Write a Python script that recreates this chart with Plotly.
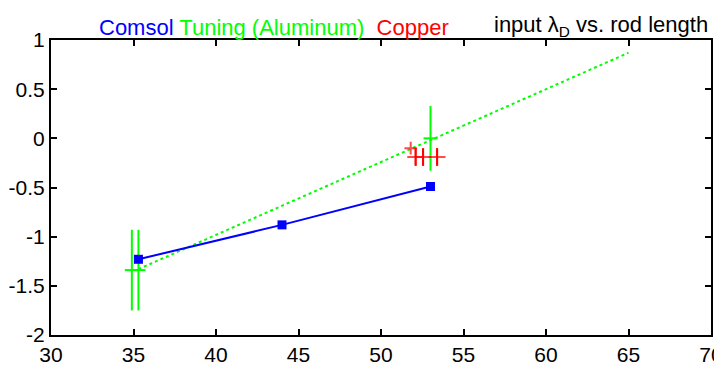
import plotly.graph_objects as go

# Comsol simulation results
comsol_x = [35.3, 44.0, 53.0]
comsol_y = [-1.23, -0.88, -0.49]

# Tuning measurements (aluminum rods) with vertical uncertainty
tuning_x = [34.9, 35.3, 53.0]
tuning_y = [-1.34, -1.34, 0.0]
tuning_err = [0.41, 0.41, 0.33]

# Linear fit through the tuning data
fit_x = [35.3, 65.0]
fit_y = [-1.33, 0.87]

# Copper measurements
copper_x = [51.8, 52.1, 52.55, 53.4]
copper_y = [-0.10, -0.19, -0.19, -0.19]
copper_err = [0.0, 0.09, 0.09, 0.09]

x_ticks = [30, 35, 40, 45, 50, 55, 60, 65, 70]
y_ticks = [-2, -1.5, -1, -0.5, 0, 0.5, 1]
y_tick_labels = ["-2", "-1.5", "-1", "-0.5", "0", "0.5", "1"]

BLUE = "#0000ff"
GREEN = "#00ff00"
RED = "#ff0000"
FONT = "Liberation Sans, Arial, sans-serif"

fig = go.Figure()

fig.add_trace(go.Scatter(
    x=fit_x, y=fit_y, mode="lines",
    line=dict(color=GREEN, width=2, dash="dot"),
    hoverinfo="skip",
))

fig.add_trace(go.Scatter(
    x=tuning_x, y=tuning_y, mode="markers",
    marker=dict(symbol="line-ew", size=10, line=dict(color=GREEN, width=2)),
    error_y=dict(type="data", array=tuning_err, color=GREEN, thickness=2, width=0),
))

fig.add_trace(go.Scatter(
    x=copper_x, y=copper_y, mode="markers",
    marker=dict(symbol="cross-thin", size=[9, 12, 12, 12], line=dict(color=RED, width=2)),
    error_y=dict(type="data", array=copper_err, color=RED, thickness=2, width=0),
))

fig.add_trace(go.Scatter(
    x=comsol_x, y=comsol_y, mode="lines+markers",
    line=dict(color=BLUE, width=2),
    marker=dict(symbol="square", size=9, color=BLUE),
))

axis_common = dict(
    showline=True, linecolor="black", linewidth=2, mirror="ticks",
    ticks="inside", ticklen=6, tickwidth=2, tickcolor="black",
    showgrid=False, zeroline=False,
    tickfont=dict(family=FONT, size=21, color="black"),
    ticklabeloverflow="allow", automargin=False,
)

fig.update_xaxes(range=[30, 70], tickvals=x_ticks, **axis_common)
fig.update_yaxes(range=[-2, 1], tickvals=y_ticks, ticktext=y_tick_labels, **axis_common)

fig.add_annotation(
    xref="paper", yref="paper", x=(97 - 51) / 660, y=1, xanchor="left", yanchor="bottom",
    showarrow=False, yshift=-2,
    text=(f"<span style='color:{BLUE}'>Comsol</span> "
          f"<span style='color:{GREEN}'>Tuning (Aluminum)</span>&nbsp; "
          f"<span style='color:{RED}'>Copper</span>"),
    font=dict(family=FONT, size=22),
)
fig.add_annotation(
    xref="paper", yref="paper", x=(710 - 51) / 660, y=1, xanchor="right", yanchor="bottom",
    showarrow=False, yshift=-2,
    text="input λ<sub>D</sub> vs. rod length",
    font=dict(family=FONT, size=22, color="black"),
)

fig.update_layout(
    width=714, height=365,
    margin=dict(l=51, r=3, t=40, b=30, autoexpand=False),
    paper_bgcolor="white", plot_bgcolor="white",
    showlegend=False,
)

fig.write_html("out.html")
